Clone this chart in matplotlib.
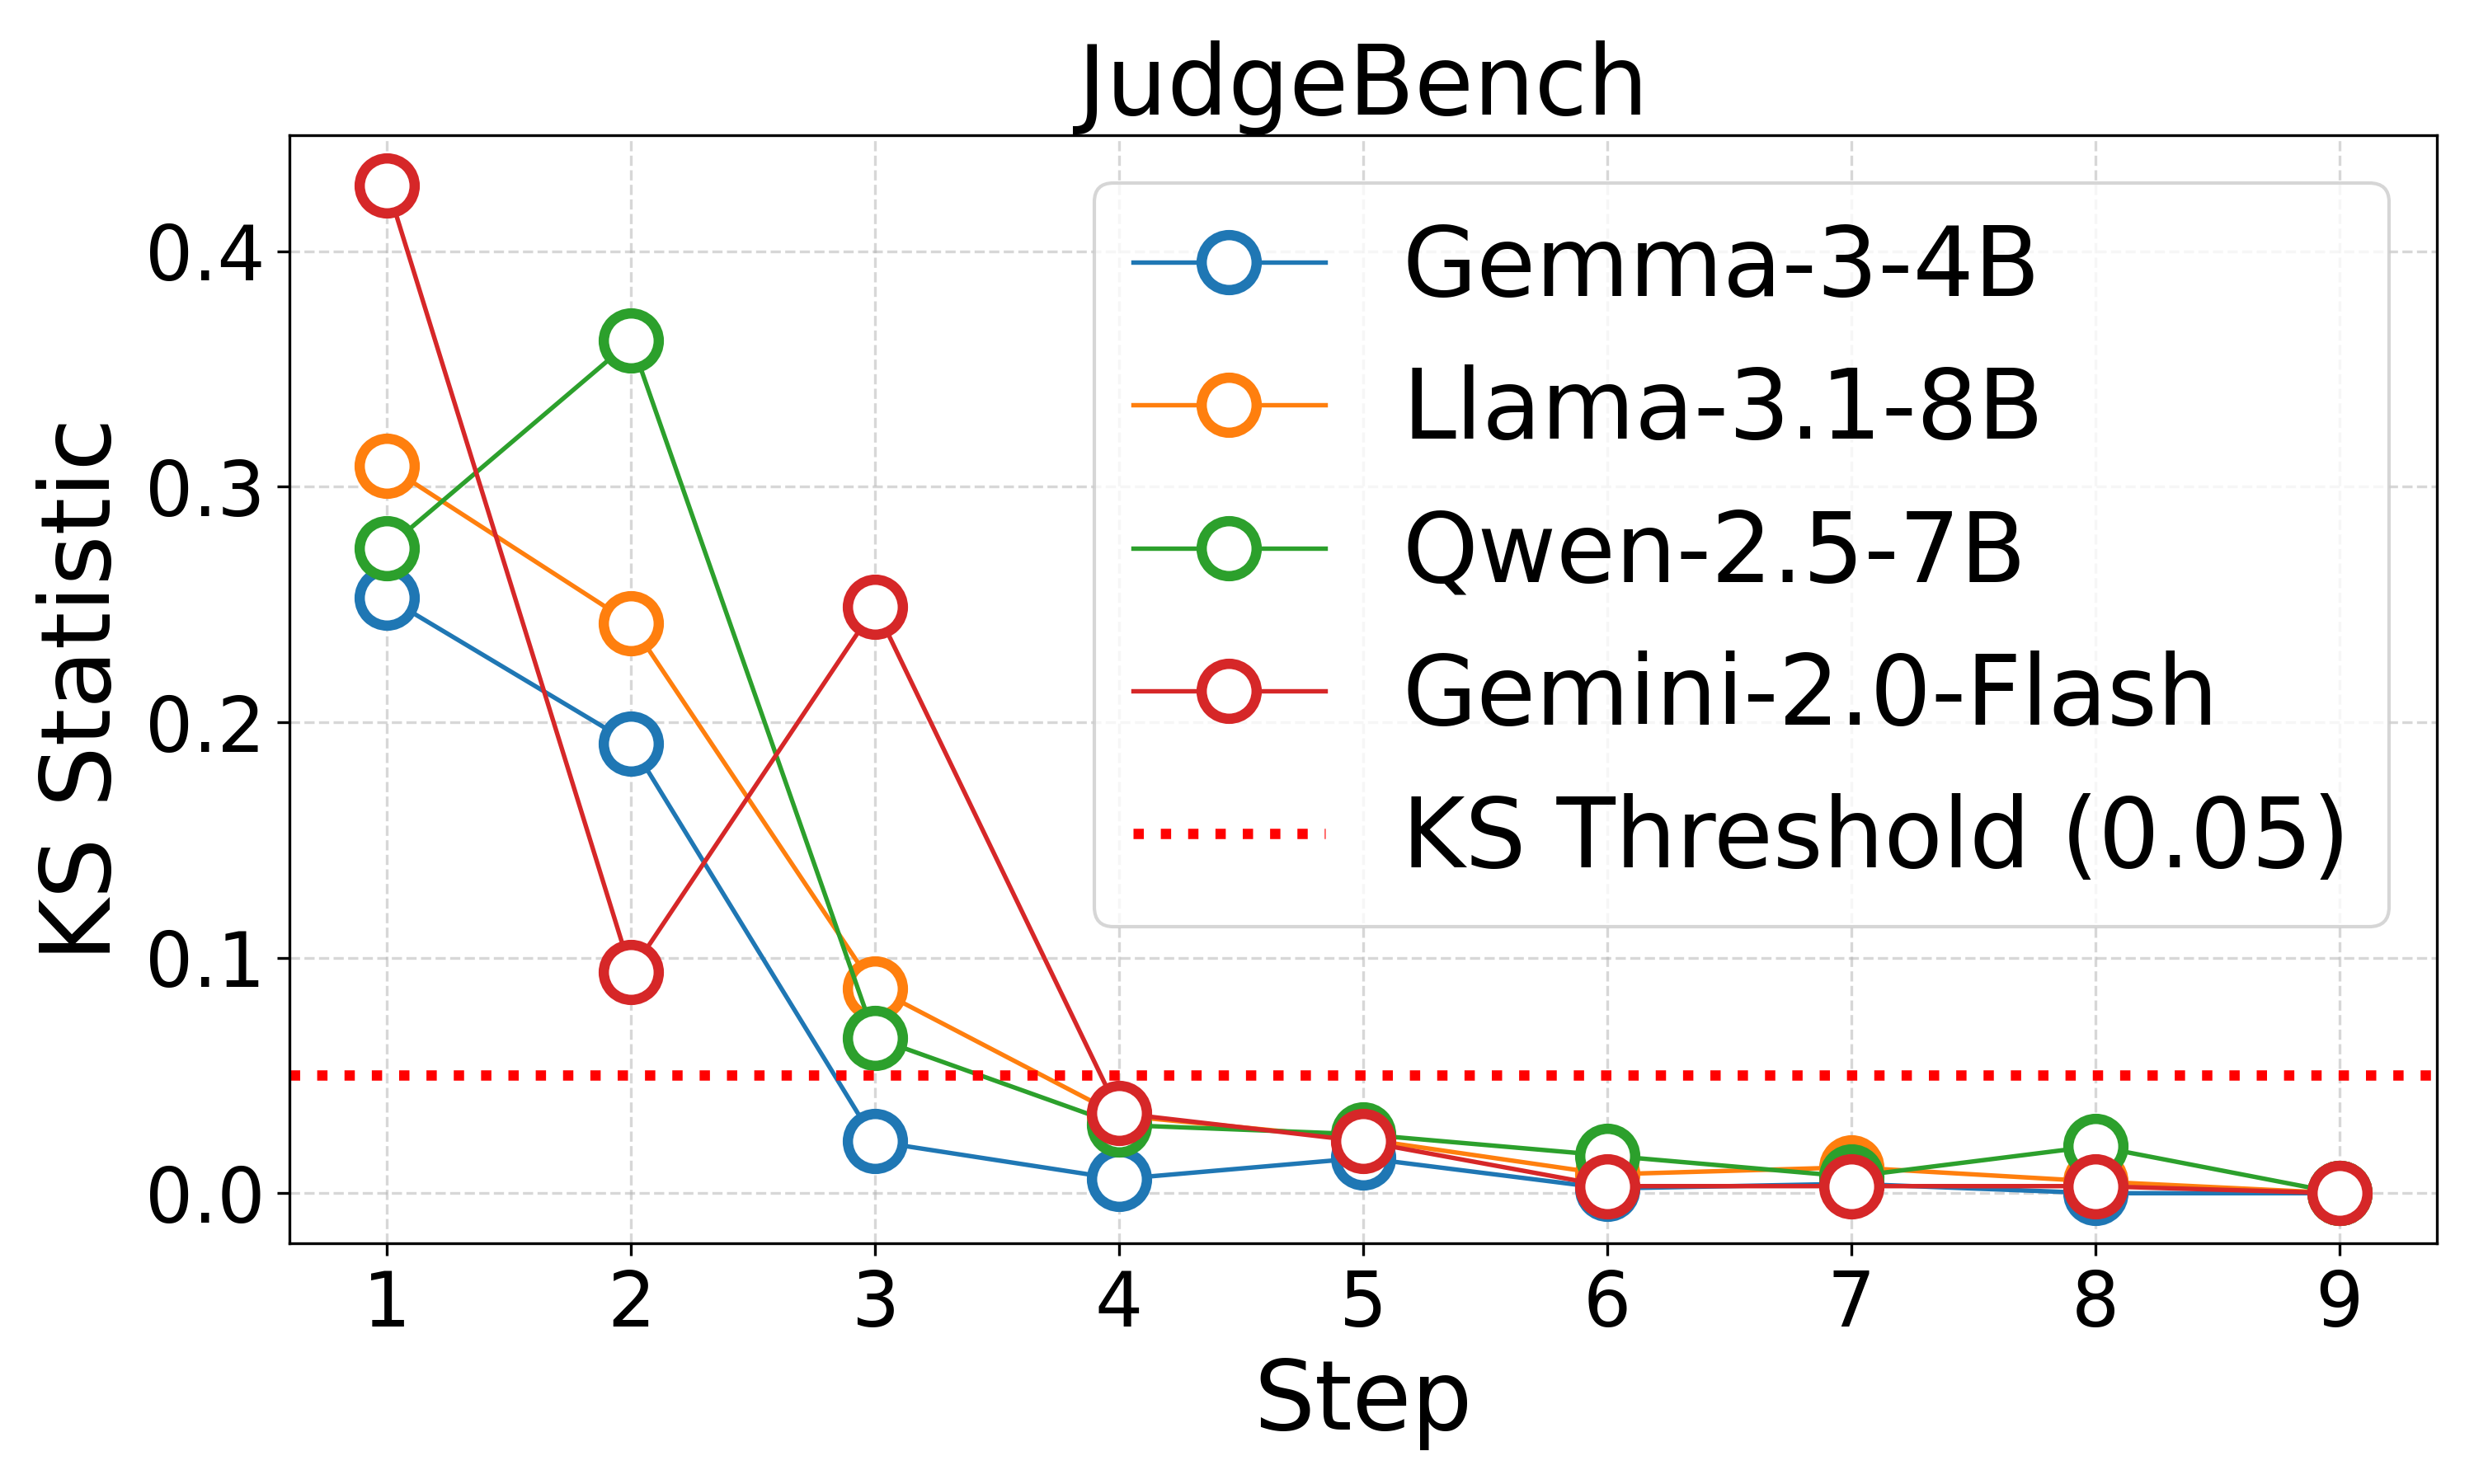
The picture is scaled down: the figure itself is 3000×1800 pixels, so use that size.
import matplotlib.pyplot as plt

# Data
steps = [1, 2, 3, 4, 5, 6, 7, 8, 9]
models = ["Gemma-3-4B", "Llama-3.1-8B", "Qwen-2.5-7B", "Gemini-2.0-Flash"]
gemma = [0.253, 0.191, 0.022, 0.006, 0.015, 0.002, 0.004, 0.000, 0.000]
llama = [0.309, 0.242, 0.087, 0.033, 0.023, 0.008, 0.011, 0.005, 0.000]
qwen = [0.274, 0.362, 0.066, 0.029, 0.025, 0.016, 0.007, 0.020, 0.000]
gemini = [0.428, 0.094, 0.249, 0.034, 0.022, 0.003, 0.003, 0.003, 0.000]
threshold = 0.05

fig, ax = plt.subplots(figsize=(10, 6), dpi=300)
fig.subplots_adjust(left=0.117, right=0.985, top=0.909, bottom=0.162)

for name, vals in zip(models, [gemma, llama, qwen, gemini]):
    ax.plot(steps, vals, marker="o", markersize=16, markeredgewidth=3,
            markerfacecolor="white", linewidth=1.3, label=name)

ax.axhline(threshold, color="red", linestyle=":", linewidth=3,
           label=f"KS Threshold ({threshold})")

ax.set_title("JudgeBench", fontsize=28)
ax.set_xlabel("Step", fontsize=28)
ax.set_ylabel("KS Statistic", fontsize=28)
ax.set_xticks(steps)
ax.tick_params(axis="both", labelsize=22)
ax.grid(True, linestyle="--", alpha=0.5)
ax.legend(loc="upper right", fontsize=28)

plt.savefig("out.png", dpi=300)
plt.close()
print("saved out.png")
